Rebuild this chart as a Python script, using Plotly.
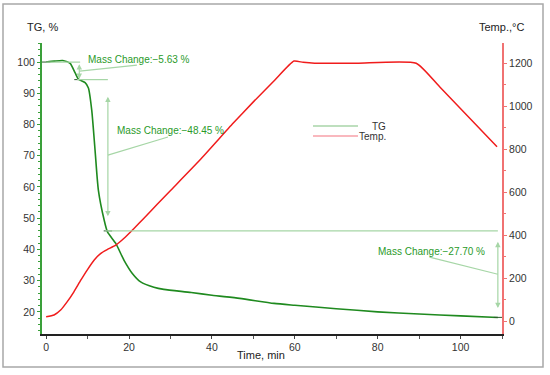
import plotly.graph_objects as go

# ---- data ----
time_tg = [0, 2, 4, 5.8, 7, 7.8, 9.4, 10.2, 11, 11.8, 12.6, 14.0, 14.8, 16.8, 18.8,
           20.8, 22.8, 26, 28.4, 35, 40, 46.7, 55, 60, 70, 80, 90, 100, 109]
tg = [100, 100.3, 100.5, 99.6, 96.5, 94.5, 93.4, 91.7, 84.6, 71.8, 59, 49.4, 45.6,
      41.9, 36.5, 32.3, 29.6, 27.9, 27.2, 26.2, 25.3, 24.3, 22.7, 22.1, 21.0, 20.0,
      19.3, 18.7, 18.2]

time_temp = [0, 1.9, 3.5, 5.1, 6.7, 8.4, 9.9, 11.6, 13.2, 14.8, 16.8, 18.8, 21.2,
             23.6, 26.8, 29.9, 37.1, 45.1, 50, 55.2, 59.8, 62, 64.8, 75, 89.3, 95,
             108.8]
temp = [20, 28, 51, 90, 136, 191, 237, 284, 315, 333, 353, 385, 431, 478, 543, 605,
        749, 920, 1020, 1122, 1210, 1204, 1200, 1200, 1200, 1089, 811]

# mass-change steps
step_times = [0, 7.8, 14.9, 109]
step_levels = [100, 94.37, 45.92, 18.22]
mass_changes = ["−5.63", "−48.45", "−27.70"]

x_ticks = [0, 20, 40, 60, 80, 100]
tg_ticks = [20, 30, 40, 50, 60, 70, 80, 90, 100]
temp_ticks = [0, 200, 400, 600, 800, 1000, 1200]

GREEN = "#1f8a1f"
TXT_GREEN = "#2a9a2a"
LIGHT_G = "#a6d6a6"
RED = "#f01c1c"
PINK_AX = "#f07272"
FONT = "Liberation Sans, Arial, sans-serif"

fig = go.Figure()
fig.add_trace(go.Scatter(x=time_tg, y=tg, mode="lines", name="TG",
                         line=dict(color=GREEN, width=1.6, shape="spline", smoothing=0.6),
                         yaxis="y"))
fig.add_trace(go.Scatter(x=time_temp, y=temp, mode="lines", name="Temp.",
                         line=dict(color=RED, width=1.5, shape="spline", smoothing=0.5),
                         yaxis="y2"))
fig.add_trace(go.Scatter(x=step_times, y=step_levels, mode="markers",
                         marker=dict(symbol="line-ew", size=6, line=dict(color="#2d5a2d", width=1)),
                         yaxis="y", hoverinfo="skip"))

shapes = []
annots = []

def seg(x0, y0, x1, y1, color=LIGHT_G, w=1.2):
    shapes.append(dict(type="line", xref="x", yref="y", x0=x0, y0=y0, x1=x1, y1=y1,
                       line=dict(color=color, width=w)))

def darrow(x, y0, y1):
    annots.append(dict(x=x, y=y1, ax=x, ay=y0, xref="x", yref="y", axref="x", ayref="y",
                       showarrow=True, arrowhead=2, startarrowhead=2, arrowside="end+start",
                       arrowsize=0.9, startarrowsize=0.9, arrowwidth=1.2, arrowcolor=LIGHT_G,
                       text=""))

def label(x, y, txt):
    annots.append(dict(x=x, y=y, xref="x", yref="y", text=txt, showarrow=False,
                       xanchor="left", yanchor="middle",
                       font=dict(family=FONT, size=10, color=TXT_GREEN)))

# step 1
seg(0, step_levels[0], 8.2, step_levels[0])
seg(7.5, step_levels[1], 14.9, step_levels[1])
darrow(8.0, step_levels[0] - 0.2, step_levels[1] + 0.2)
seg(8.1, 97.1, 21.9, 99.0)
label(9.5, 100.8, "Mass Change:" + mass_changes[0] + " %")
# step 2
darrow(14.9, 89.4, 50.6)
seg(14.9, 70.2, 29.4, 76.0)
label(16.5, 78.2, "Mass Change:" + mass_changes[1] + " %")
seg(14.3, step_levels[2], 109, step_levels[2])
# step 3
darrow(109, 42.9, 21.2)
seg(109, 32.05, 92.5, 37.5)
label(79.7, 39.3, "Mass Change:" + mass_changes[2] + " %")

# frame
W, H = 550, 375
L, R, T, B = 42, 48, 43, 41
pw, ph = W - L - R, H - T - B
def px(x): return (x - L) / pw
def py(y): return (H - B - y) / ph

shapes.append(dict(type="rect", xref="paper", yref="paper",
                   x0=px(3), x1=px(543), y0=py(367), y1=py(4),
                   line=dict(color="#a8a8a8", width=1.5), layer="below"))

# legend (manual)
shapes.append(dict(type="line", xref="paper", yref="paper", x0=px(313), x1=px(358),
                   y0=py(126), y1=py(126), line=dict(color="#a8d4a8", width=1.5)))
shapes.append(dict(type="line", xref="paper", yref="paper", x0=px(313), x1=px(358),
                   y0=py(136), y1=py(136), line=dict(color="#f7a0a8", width=1.5)))
annots.append(dict(x=px(388), y=py(126), xref="paper", yref="paper", text="TG",
                   showarrow=False, xanchor="right", yanchor="middle",
                   font=dict(family=FONT, size=10, color="#333")))
annots.append(dict(x=px(388), y=py(136.5), xref="paper", yref="paper", text="Temp.",
                   showarrow=False, xanchor="right", yanchor="middle",
                   font=dict(family=FONT, size=10, color="#333")))

# axis titles
annots.append(dict(x=px(42), y=py(27), xref="paper", yref="paper", text="TG, %",
                   showarrow=False, xanchor="center", yanchor="middle",
                   font=dict(family=FONT, size=11, color="#222")))
annots.append(dict(x=px(501), y=py(27), xref="paper", yref="paper", text="Temp.,°C",
                   showarrow=False, xanchor="center", yanchor="middle",
                   font=dict(family=FONT, size=11, color="#222")))
annots.append(dict(x=px(287), y=py(355), xref="paper", yref="paper", text="Time, min",
                   showarrow=False, xanchor="right", yanchor="middle",
                   font=dict(family=FONT, size=11, color="#222")))

fig.update_layout(
    width=W, height=H, margin=dict(l=L, r=R, t=T, b=B),
    paper_bgcolor="white", plot_bgcolor="white", showlegend=False,
    font=dict(family=FONT, size=10, color="#333"),
    xaxis=dict(range=[-1, 110], tickvals=x_ticks, showgrid=False, zeroline=False,
               showline=True, linecolor="#222", linewidth=1.5, ticks="outside",
               ticklen=3, tickcolor="#444", tickfont=dict(size=10.5, color="#333"),
               minor=dict(dtick=10, ticks="outside", ticklen=3, tickcolor="#555")),
    yaxis=dict(range=[12.9, 106.1], tickvals=tg_ticks, showgrid=False, zeroline=False,
               showline=True, linecolor="#3aa03a", linewidth=2, ticks="outside",
               ticklen=3, tickcolor="#3aa03a", tickfont=dict(size=10.5, color="#333"),
               minor=dict(dtick=2, ticks="outside", ticklen=2, tickcolor="#3aa03a")),
    yaxis2=dict(range=[-60.5, 1294], tickvals=temp_ticks, overlaying="y", side="right",
                anchor="x", showgrid=False, zeroline=False, showline=True,
                linecolor=PINK_AX, linewidth=2, ticks="outside", ticklen=3,
                tickcolor=PINK_AX, tickfont=dict(size=10.5, color="#333"),
                minor=dict(dtick=100, ticks="outside", ticklen=2, tickcolor=PINK_AX)),
    shapes=shapes, annotations=annots,
)

fig.write_html("out.html", config={"displayModeBar": False},
               post_script="document.body.style.margin='0';")
